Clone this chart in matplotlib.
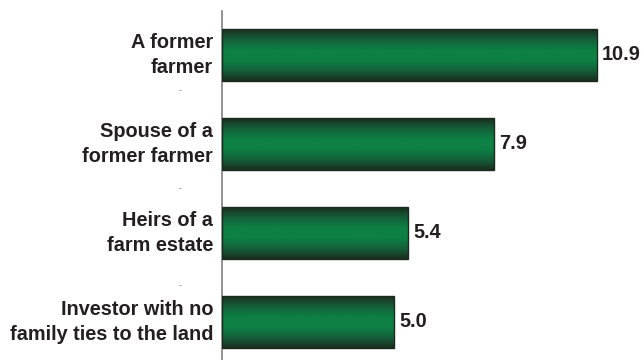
import numpy as np
import matplotlib
matplotlib.use("Agg")
import matplotlib.pyplot as plt
from matplotlib.colors import LinearSegmentedColormap

categories = ["A former\nfarmer", "Spouse of a\nformer farmer", "Heirs of a\nfarm estate",
              "Investor with no\nfamily ties to the land"]
values = [10.9, 7.9, 5.4, 5.0]
value_labels = ["10.9", "7.9", "5.4", "5.0"]

plt.rcParams['font.family'] = ['Liberation Sans', 'DejaVu Sans']
W, H = 642, 360
fig = plt.figure(figsize=(W / 100, H / 100), dpi=100)
ax = fig.add_axes([222 / W, 0, (W - 222) / W, (360 - 11) / H])

text_color = "#231f20"
bar_h = 0.584
cmap = LinearSegmentedColormap.from_list(
    "g", ["#1b2e1f", "#14603a", "#0e8044", "#0e8044", "#14603a", "#1b2e1f"])
grad = np.linspace(0, 1, 100).reshape(-1, 1)

for i, (v, lab) in enumerate(zip(values, value_labels)):
    ax.imshow(grad, cmap=cmap, aspect='auto', interpolation='bicubic',
              extent=(0, v, i + bar_h / 2, i - bar_h / 2), zorder=2)
    ax.add_patch(plt.Rectangle((0, i - bar_h / 2), v, bar_h, fill=False,
                               edgecolor="#1a2a1c", linewidth=1.0, zorder=3))
    ax.text(v + 0.15, i, lab, ha='left', va='center', fontsize=14.3,
            fontweight='bold', color=text_color)
    ax.text(-0.26, i, categories[i], ha='right', va='center', fontsize=14.3,
            fontweight='bold', color=text_color, linespacing=1.45)

for yy in [0.40, 1.506, 2.596]:
    ax.text(-1.22, yy, "-", ha='center', va='center', fontsize=6, color="#555555")

ax.set_xlim(0, 420 / 34.4)
ax.set_ylim(3.427, -0.494)
for s in ["top", "right", "bottom"]:
    ax.spines[s].set_visible(False)
ax.spines["left"].set_color("#808080")
ax.spines["left"].set_linewidth(1.2)
ax.set_xticks([])
ax.set_yticks([])
ax.patch.set_alpha(0)

fig.savefig("out.png", dpi=100)
